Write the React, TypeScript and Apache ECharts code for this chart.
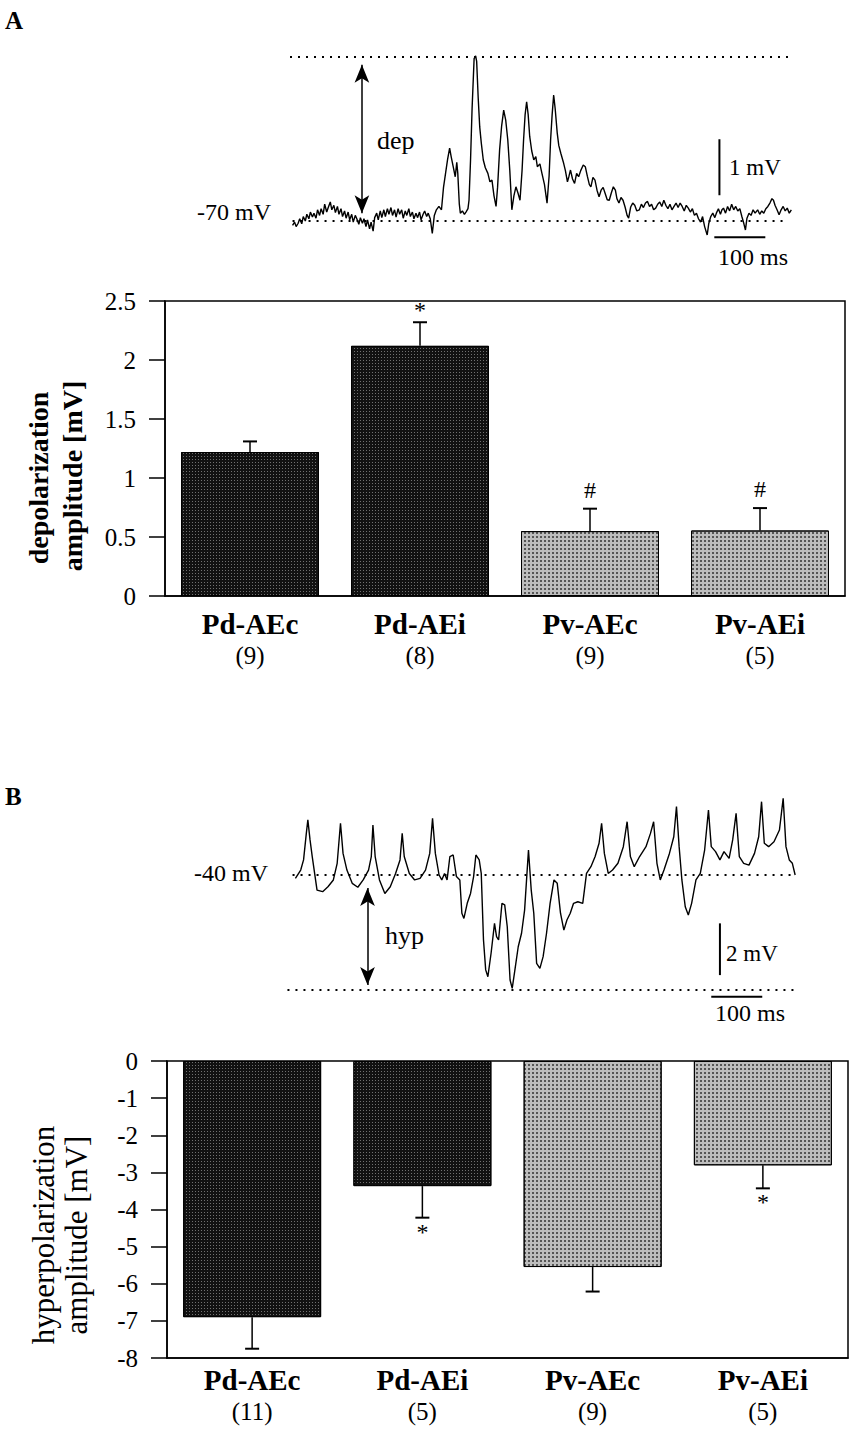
import React, { useEffect, useRef } from "react";
import * as echarts from "echarts";

const SERIF = '"Liberation Serif", "DejaVu Serif", serif';

// ---- bar chart data ----
const categories = ["Pd-AEc", "Pd-AEi", "Pv-AEc", "Pv-AEi"];
const countsA = ["(9)", "(8)", "(9)", "(5)"];
const countsB = ["(11)", "(5)", "(9)", "(5)"];
const depValues = [1.22, 2.12, 0.55, 0.555];
const depErrors = [0.09, 0.2, 0.19, 0.19];
const depMarks = ["", "*", "#", "#"];
const hypValues = [-6.9, -3.37, -5.55, -2.81];
const hypErrors = [0.85, 0.85, 0.66, 0.62];
const hypMarks = ["", "*", "", "*"];
const darkGroups = [true, true, false, false];

// ---- trace A (time ms, membrane potential mV) ----
const traceA: number[][] = [
  [5, -70.08], [9, -70.02], [12, -70.1], [16, -70.04], [19, -69.96], [23, -70.05], [26, -69.92], [30, -70.0],
  [33, -69.88], [37, -69.96], [40, -69.84], [44, -69.93], [47, -69.86], [51, -69.95], [54, -69.8], [58, -69.9],
  [61, -69.78], [65, -69.88], [68, -69.7], [72, -69.84], [75, -69.76], [79, -69.66], [82, -69.8], [86, -69.72],
  [89, -69.85], [93, -69.74], [96, -69.88], [100, -69.78], [103, -69.92], [107, -69.82], [110, -69.95], [114, -69.84],
  [117, -69.98], [121, -69.88], [124, -70.02], [128, -69.9], [131, -69.96], [135, -70.06], [138, -69.94], [142, -70.04],
  [145, -69.96], [149, -70.1], [152, -69.98], [156, -70.14], [159, -70.02], [163, -70.18], [166, -69.94], [170, -69.86],
  [173, -69.98], [177, -69.82], [180, -69.94], [184, -69.8], [187, -69.92], [191, -69.78], [194, -69.88], [198, -69.76],
  [201, -69.9], [205, -69.8], [208, -69.93], [212, -69.78], [215, -69.88], [219, -69.8], [222, -69.95], [226, -69.82],
  [229, -69.9], [233, -69.78], [236, -69.92], [240, -69.84], [243, -69.96], [247, -69.86], [250, -69.94], [254, -69.84],
  [257, -69.98], [261, -69.88], [264, -69.82], [268, -69.92], [271, -69.86], [275, -69.96], [279, -70.22], [283, -69.9],
  [287, -69.8], [292, -69.74], [297, -69.8], [301, -69.4], [305, -69.15], [309, -68.9], [313, -68.7], [316, -68.85],
  [320, -69.03], [324, -69.21], [327, -68.95], [329, -69.15], [332, -69.7], [334, -69.86], [338, -69.82], [342, -69.88],
  [345, -69.84], [349, -69.78], [351, -69.63], [354, -68.91], [357, -68.0], [361, -67.1], [364, -67.05], [366, -67.15],
  [369, -67.8], [372, -68.32], [375, -68.6], [379, -68.91], [383, -69.05], [388, -69.15], [392, -69.3], [396, -69.27],
  [400, -69.55], [404, -69.74], [407, -69.4], [411, -68.73], [415, -68.3], [419, -68.02], [423, -68.2], [427, -68.55],
  [431, -69.1], [435, -69.8], [439, -69.55], [443, -69.39], [447, -69.5], [451, -69.63], [455, -69.1], [458, -68.55],
  [461, -68.1], [464, -67.87], [467, -68.1], [470, -68.49], [474, -68.75], [478, -68.91], [482, -68.85], [485, -69.03],
  [490, -68.98], [494, -69.15], [499, -69.35], [504, -69.68], [508, -69.2], [511, -68.55], [514, -68.1], [517, -67.75],
  [520, -68.0], [524, -68.43], [527, -68.65], [531, -68.79], [536, -68.95], [540, -69.1], [544, -69.3], [547, -69.2],
  [550, -69.09], [554, -69.25], [558, -69.33], [562, -69.15], [566, -69.21], [570, -69.1], [575, -69.0], [579, -69.03],
  [583, -69.2], [587, -69.35], [590, -69.39], [594, -69.22], [598, -69.27], [602, -69.45], [606, -69.57], [610, -69.45],
  [614, -69.4], [618, -69.51], [622, -69.62], [626, -69.63], [630, -69.5], [634, -69.39], [638, -69.45], [641, -69.6],
  [645, -69.68], [649, -69.58], [653, -69.63], [657, -69.75], [661, -69.9], [664, -69.95], [668, -69.75], [672, -69.68],
  [676, -69.72], [680, -69.82], [685, -69.8], [689, -69.7], [693, -69.76], [697, -69.68], [701, -69.65], [705, -69.74],
  [709, -69.7], [713, -69.8], [717, -69.77], [721, -69.7], [725, -69.66], [729, -69.74], [733, -69.63], [737, -69.72],
  [741, -69.78], [745, -69.7], [749, -69.8], [753, -69.74], [757, -69.68], [761, -69.76], [765, -69.68], [769, -69.74],
  [773, -69.82], [777, -69.72], [781, -69.77], [785, -69.84], [789, -69.78], [793, -69.9], [797, -69.86], [801, -69.96],
  [805, -70.02], [809, -69.92], [813, -70.1], [818, -70.25], [821, -70.05], [825, -69.92], [829, -69.86], [833, -69.94],
  [836, -69.86], [840, -69.78], [844, -69.88], [847, -69.8], [850, -69.77], [854, -69.86], [858, -69.74], [862, -69.82],
  [866, -69.7], [870, -69.8], [874, -69.74], [878, -69.82], [882, -69.78], [886, -69.92], [890, -70.05], [893, -70.16],
  [896, -69.95], [900, -69.86], [904, -69.9], [908, -69.8], [912, -69.86], [917, -69.8], [921, -69.88], [925, -69.82],
  [929, -69.86], [933, -69.78], [937, -69.74], [941, -69.68], [945, -69.6], [948, -69.63], [951, -69.72], [955, -69.8],
  [959, -69.89], [963, -69.8], [967, -69.74], [971, -69.82], [975, -69.77], [979, -69.86], [983, -69.8],
];
const depTopLine = [[0, -67.07], [977, -67.07]];
const depBaseLine = [[5, -70.0], [977, -70.0]];
const depArrow = [[141, -67.21], [141, -69.86]];
const depScaleV = [[842, -68.54], [842, -69.54]];
const depScaleH = [[832, -70.29], [932, -70.29]];

// ---- trace B (time ms, membrane potential mV) ----
const traceB: number[][] = [
  [10.6, -40.13], [21, -39.81], [26.6, -39.42], [32, -38.4], [35, -37.88], [39.3, -38.65], [43.6, -39.29], [53, -40.58],
  [64, -40.64], [74.4, -40.45], [85, -40.19], [92.5, -39.55], [99, -38.01], [104, -39.17], [111.6, -39.81], [122, -40.32],
  [133, -40.47], [143.5, -40.19], [154, -39.81], [159.4, -39.29], [162.6, -38.08], [167, -39.29], [175.4, -40.19], [186, -40.71],
  [196.6, -40.45], [207, -39.94], [215.7, -39.42], [220, -38.4], [224, -39.29], [234, -39.94], [244.4, -40.19], [255, -40.13],
  [265.7, -39.81], [274, -39.17], [279.5, -37.82], [285, -39.17], [292.3, -40.0], [297.6, -40.19], [303, -39.94], [308, -40.19],
  [313.5, -39.29], [320, -39.23], [326.3, -40.06], [333, -40.19], [337, -41.47], [341, -41.67], [347.5, -41.09], [354, -40.71],
  [360, -40.06], [364.5, -39.23], [371, -39.42], [375, -39.94], [379.4, -42.5], [383.7, -43.65], [388, -43.91], [394.4, -42.99],
  [401, -41.86], [405, -42.37], [409, -42.5], [415.6, -41.09], [421, -41.15], [426, -41.99], [431.5, -44.04], [435.7, -44.36],
  [441, -43.65], [447.5, -42.76], [454, -42.24], [460, -41.35], [467.6, -39.04], [473, -40.58], [478, -41.47], [483.6, -43.4],
  [490, -43.59], [496.3, -43.14], [503, -42.24], [510, -41.09], [517.6, -40.19], [524, -40.32], [530.4, -41.47], [537, -42.12],
  [543, -41.73], [549.5, -41.47], [556, -41.09], [564.4, -41.03], [574, -41.09], [581.4, -39.94], [590, -39.68], [598.3, -39.29],
  [606, -38.78], [611, -38.01], [616.4, -39.17], [624, -39.94], [632.4, -39.81], [643, -39.55], [653.6, -38.91], [661, -37.95],
  [667.4, -39.29], [675, -39.68], [685.5, -39.29], [698, -38.91], [706.8, -38.4], [713, -37.95], [719.5, -39.55], [726, -40.19],
  [733.3, -39.81], [744, -39.17], [752.5, -38.53], [757.8, -37.37], [763, -38.91], [768.4, -40.19], [775, -41.22], [781, -41.54],
  [787.5, -41.09], [796, -40.19], [804.5, -39.94], [813, -39.04], [820.5, -37.5], [826, -38.91], [834.4, -39.1], [843, -39.42],
  [851, -39.1], [861, -39.36], [868, -38.65], [874.7, -37.63], [881, -39.29], [889.6, -39.55], [900, -39.62], [910.8, -39.17],
  [919, -38.53], [924.6, -37.18], [930, -38.78], [938.5, -38.91], [949, -38.72], [959.7, -38.27], [967, -37.05], [972.5, -38.91],
  [979, -39.42], [985, -39.55], [990.5, -40.0],
];
const hypTopLine = [[5, -40.0], [988, -40.0]];
const hypBaseLine = [[-5, -44.42], [988, -44.42]];
const hypArrow = [[152, -40.5], [152, -44.23]];
const hypScaleV = [[843, -41.86], [843, -43.85]];
const hypScaleH = [[826, -44.68], [926, -44.68]];

const darkStyle = {
  color: "#111111",
  borderColor: "#000",
  borderWidth: 1,
  decal: {
    symbol: "rect",
    symbolSize: 1,
    color: "rgba(255,255,255,0.4)",
    dashArrayX: [1, 2],
    dashArrayY: [1, 2],
  },
};
const lightStyle = {
  color: "#bdbdbd",
  borderColor: "#000",
  borderWidth: 1,
  decal: {
    symbol: "rect",
    symbolSize: 1,
    color: "rgba(0,0,0,0.55)",
    dashArrayX: [1.5, 1.5],
    dashArrayY: [1.5, 1.5],
  },
};

const axisLineStyle = { color: "#000", width: 1.5 };

function errorSeries(
  axisIdx: number,
  values: number[],
  errors: number[],
  marks: string[],
  dir: number,
  markOffset: number,
  hashOffset: number
) {
  return {
    type: "custom",
    xAxisIndex: axisIdx,
    yAxisIndex: axisIdx,
    z: 5,
    data: values.map((v, i) => [i, v, errors[i]]),
    renderItem: (params: any, api: any) => {
      const i = api.value(0);
      const v = api.value(1);
      const e = api.value(2);
      const p0 = api.coord([i, v]);
      const p1 = api.coord([i, v + dir * e]);
      const mark = marks[params.dataIndex];
      const off = mark === "#" ? hashOffset : markOffset;
      return {
        type: "group",
        children: [
          {
            type: "line",
            shape: { x1: p0[0], y1: p0[1], x2: p1[0], y2: p1[1] },
            style: { stroke: "#000", lineWidth: 1.5 },
          },
          {
            type: "line",
            shape: { x1: p1[0] - 7, y1: p1[1], x2: p1[0] + 7, y2: p1[1] },
            style: { stroke: "#000", lineWidth: 2 },
          },
          {
            type: "text",
            x: p1[0],
            y: p1[1] + off,
            style: {
              text: mark,
              font: `24px ${SERIF}`,
              fill: "#000",
              textAlign: "center",
              textVerticalAlign: "middle",
            },
          },
        ],
      };
    },
  };
}

function lineSeries(idx: number, data: number[][], width: number, type: any) {
  return {
    type: "line",
    xAxisIndex: idx,
    yAxisIndex: idx,
    data,
    symbol: "none",
    silent: true,
    lineStyle: { color: "#000", width, type },
  };
}

function arrowSeries(idx: number, pts: number[][]) {
  return {
    type: "line",
    xAxisIndex: idx,
    yAxisIndex: idx,
    data: pts,
    symbol: "none",
    lineStyle: { opacity: 0 },
    markLine: {
      silent: true,
      symbol: ["arrow", "arrow"],
      symbolSize: [11, 18],
      label: { show: false },
      lineStyle: { color: "#000", width: 1.5, type: "solid" },
      data: [[{ coord: pts[0] }, { coord: pts[1] }]],
    },
  };
}

function catAxis(gridIndex: number, counts: string[], margin: number) {
  return {
    gridIndex,
    type: "category",
    data: categories,
    position: "bottom",
    axisTick: { show: false },
    axisLine: { onZero: false, lineStyle: axisLineStyle },
    axisLabel: {
      interval: 0,
      margin,
      color: "#000",
      fontFamily: SERIF,
      formatter: (v: string, i: number) => `{n|${v}}\n{c|${counts[i]}}`,
      rich: {
        n: { fontSize: 29, fontWeight: "bold", fontFamily: SERIF, color: "#000", lineHeight: 32 },
        c: { fontSize: 25, fontFamily: SERIF, color: "#000", lineHeight: 30 },
      },
    },
  };
}

function valAxis(gridIndex: number, min: number, max: number, interval: number) {
  return {
    gridIndex,
    type: "value",
    min,
    max,
    interval,
    axisLine: { show: true, lineStyle: axisLineStyle },
    axisTick: { show: true, length: 16, lineStyle: axisLineStyle },
    splitLine: { show: false },
    axisLabel: { fontSize: 25, fontFamily: SERIF, color: "#000", margin: 29 },
  };
}

function txt(text: string, x: number, y: number, size: number, align = "left", weight = "normal", rotation = 0) {
  return {
    type: "text",
    x,
    y,
    rotation,
    silent: true,
    style: {
      text,
      font: `${weight} ${size}px ${SERIF}`,
      fill: "#000",
      textAlign: align,
      textVerticalAlign: "middle",
    },
  };
}

export default function App() {
  const ref = useRef<HTMLDivElement>(null);
  useEffect(() => {
    const chart = echarts.init(ref.current!, null, { renderer: "svg" });
    const option: any = {
      animation: false,
      backgroundColor: "#fff",
      grid: [
        { left: 165, top: 301, width: 680, height: 295, show: true, borderColor: "#000", borderWidth: 1.5 },
        { left: 167, top: 1061, width: 681, height: 297, show: true, borderColor: "#000", borderWidth: 1.5 },
        { left: 284.9, top: 53, width: 515.1, height: 196 },
        { left: 284.9, top: 797, width: 515.1, height: 208 },
      ],
      xAxis: [
        catAxis(0, countsA, 12),
        catAxis(1, countsB, 6),
        { gridIndex: 2, type: "value", min: -10, max: 1000, show: false },
        { gridIndex: 3, type: "value", min: -10, max: 1000, show: false },
      ],
      yAxis: [
        valAxis(0, 0, 2.5, 0.5),
        valAxis(1, -8, 0, 1),
        { gridIndex: 2, type: "value", min: -70.5, max: -67, show: false },
        { gridIndex: 3, type: "value", min: -45, max: -37, show: false },
      ],
      series: [
        {
          type: "bar",
          xAxisIndex: 0,
          yAxisIndex: 0,
          barWidth: 138,
          data: depValues.map((v, i) => ({ value: v, itemStyle: darkGroups[i] ? darkStyle : lightStyle })),
        },
        errorSeries(0, depValues, depErrors, depMarks, 1, -12, -19),
        {
          type: "bar",
          xAxisIndex: 1,
          yAxisIndex: 1,
          barWidth: 138,
          data: hypValues.map((v, i) => ({ value: v, itemStyle: darkGroups[i] ? darkStyle : lightStyle })),
        },
        errorSeries(1, hypValues, hypErrors, hypMarks, -1, 14, 14),
        { ...lineSeries(2, traceA, 1.4, "solid"), z: 4 },
        lineSeries(2, depTopLine, 2, [2, 6]),
        lineSeries(2, depBaseLine, 2, [2, 6]),
        lineSeries(2, depScaleV, 2, "solid"),
        lineSeries(2, depScaleH, 2, "solid"),
        arrowSeries(2, depArrow),
        { ...lineSeries(3, traceB, 1.4, "solid"), z: 4 },
        lineSeries(3, hypTopLine, 2, [2, 6]),
        lineSeries(3, hypBaseLine, 2, [2, 6]),
        lineSeries(3, hypScaleV, 2, "solid"),
        lineSeries(3, hypScaleH, 2, "solid"),
        arrowSeries(3, hypArrow),
      ],
      graphic: [
        txt("A", 5, 20, 25, "left", "bold"),
        txt("-70 mV", 271, 212, 24, "right"),
        txt("dep", 377, 140, 26),
        txt("1 mV", 729, 167, 23),
        txt("100 ms", 753, 257, 24, "center"),
        txt("depolarization", 38, 478, 28, "center", "bold", Math.PI / 2),
        txt("amplitude [mV]", 72, 476, 28, "center", "bold", Math.PI / 2),
        txt("B", 5, 796, 25, "left", "bold"),
        txt("-40 mV", 268, 873, 24, "right"),
        txt("hyp", 385, 935, 26),
        txt("2 mV", 726, 953, 23),
        txt("100 ms", 750, 1013, 24, "center"),
        txt("hyperpolarization", 43, 1235, 31, "center", "normal", Math.PI / 2),
        txt("amplitude [mV]", 76, 1235, 31, "center", "normal", Math.PI / 2),
      ],
    };
    chart.setOption(option);
    return () => chart.dispose();
  }, []);
  return (
    <div
      ref={ref}
      style={{ position: "absolute", left: 0, top: 0, width: 850, height: 1430, background: "#fff" }}
    />
  );
}
